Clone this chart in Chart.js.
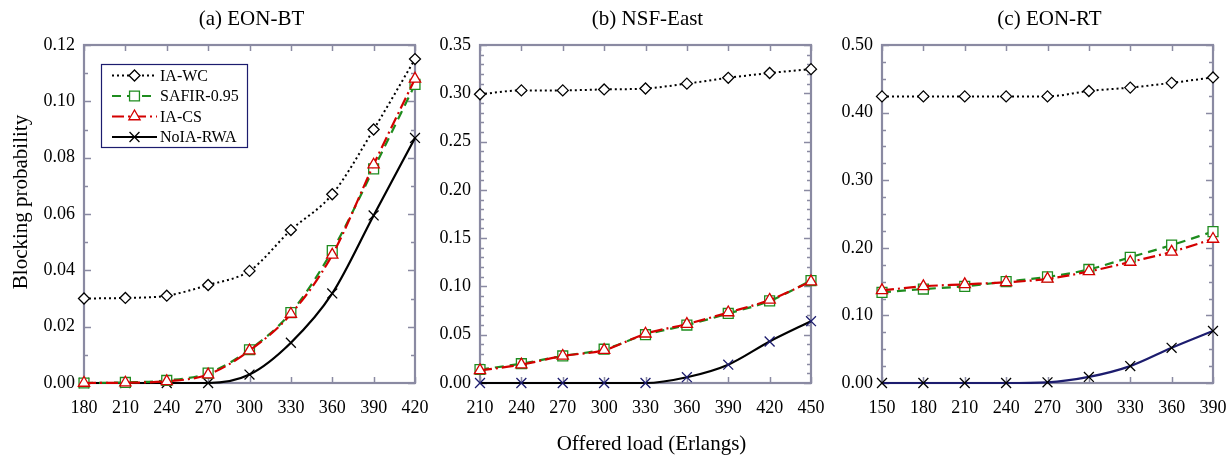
<!DOCTYPE html>
<html><head><meta charset="utf-8">
<script src="https://cdn.jsdelivr.net/npm/chart.js@4.4.0/dist/chart.umd.min.js"></script>
<style>
html,body{margin:0;padding:0;background:#fff;width:1227px;height:456px;overflow:hidden}
.p{position:absolute;top:0;height:456px}
</style></head><body>
<div class="p" style="left:0;width:430px"><canvas id="ca" width="430" height="456"></canvas></div>
<div class="p" style="left:430px;width:400px"><canvas id="cb" width="400" height="456"></canvas></div>
<div class="p" style="left:830px;width:397px"><canvas id="cc" width="397" height="456"></canvas></div>
<script>
// ---------- data ----------
const seriesNames = ['IA-WC', 'SAFIR-0.95', 'IA-CS', 'NoIA-RWA'];

// (a) EON-BT
const loadA   = [180, 210, 240, 270, 300, 330, 360, 390, 420];
const iaWcA   = [0.030, 0.0302, 0.031, 0.0348, 0.0398, 0.0543, 0.067, 0.090, 0.115];
const safirA  = [0.0, 0.0002, 0.0009, 0.0035, 0.0118, 0.0250, 0.047, 0.076, 0.106];
const iaCsA   = [0.0, 0.0001, 0.0006, 0.0030, 0.0115, 0.0245, 0.0455, 0.0775, 0.108];
const noiaA   = [0.0, 0.0, 0.0, 0.0, 0.0030, 0.0143, 0.0318, 0.0595, 0.087];

// (b) NSF-East
const loadB   = [210, 240, 270, 300, 330, 360, 390, 420, 450];
const iaWcB   = [0.299, 0.303, 0.303, 0.304, 0.305, 0.310, 0.316, 0.321, 0.325];
const safirB  = [0.014, 0.020, 0.028, 0.035, 0.050, 0.060, 0.072, 0.085, 0.106];
const iaCsB   = [0.013, 0.019, 0.028, 0.034, 0.051, 0.061, 0.073, 0.086, 0.105];
const noiaB   = [0.0, 0.0, 0.0, 0.0, 0.0, 0.006, 0.019, 0.043, 0.064];

// (c) EON-RT
const loadC   = [150, 180, 210, 240, 270, 300, 330, 360, 390];
const iaWcC   = [0.424, 0.424, 0.424, 0.424, 0.424, 0.432, 0.437, 0.444, 0.452];
const safirC  = [0.134, 0.139, 0.143, 0.150, 0.157, 0.168, 0.186, 0.204, 0.224];
const iaCsC   = [0.137, 0.143, 0.146, 0.149, 0.154, 0.165, 0.179, 0.194, 0.213];
const noiaC   = [0.0, 0.0, 0.0, 0.0, 0.001, 0.009, 0.025, 0.052, 0.077];

const titles = ['(a) EON-BT', '(b) NSF-East', '(c) EON-RT'];
const yTitle = 'Blocking probability';
const xTitle = 'Offered load (Erlangs)';

// ---------- styling ----------
const FONT = '"Liberation Serif", "Times New Roman", serif';
const FRAME = '#8a8aa2';
const NAVY = '#1c1c6e';
const GREEN = '#1e8c1e';
const RED = '#d40000';

function pts(xs, ys) { return xs.map((x, i) => ({x: x, y: ys[i]})); }

function makeDatasets(xs, wc, sf, cs, no, noLine, noPoint) {
  return [
    {label: seriesNames[0], data: pts(xs, wc), borderColor: '#000', borderWidth: 2, borderDash: [2, 3],
     pointStyle: 'rectRot', pointRadius: 5.5, pointBackgroundColor: '#fff', pointBorderColor: '#000', pointBorderWidth: 1.3, order: 1},
    {label: seriesNames[1], data: pts(xs, sf), borderColor: GREEN, borderWidth: 2.2, borderDash: [9, 6],
     pointStyle: 'rect', pointRadius: 7, pointBackgroundColor: '#fff', pointBorderColor: GREEN, pointBorderWidth: 1.3, order: 3},
    {label: seriesNames[2], data: pts(xs, cs), borderColor: RED, borderWidth: 2.2, borderDash: [12, 4, 2, 4],
     pointStyle: 'triangle', pointRadius: 6.5, pointBackgroundColor: '#fff', pointBorderColor: RED, pointBorderWidth: 1.3, order: 2},
    {label: seriesNames[3], data: pts(xs, no), borderColor: noLine, borderWidth: 2.2, borderDash: [],
     pointStyle: 'crossRot', pointRadius: 7, pointBackgroundColor: '#fff', pointBorderColor: noPoint, pointBorderWidth: 1.3, order: 4}
  ].map(d => Object.assign(d, {clip: false, fill: false, cubicInterpolationMode: 'monotone'}));
}

const framePlugin = {
  id: 'frameTicks',
  beforeDatasetsDraw(chart, args, o) {
    const ctx = chart.ctx, a = chart.chartArea;
    const xs = chart.scales.x, ys = chart.scales.y;
    ctx.save();
    ctx.strokeStyle = FRAME;
    ctx.lineWidth = 1.5;
    ctx.beginPath();
    for (let v = xs.min; v <= xs.max + 1e-9; v += o.xStep) {
      const px = Math.round(xs.getPixelForValue(v)) + 0.5;
      ctx.moveTo(px, a.bottom); ctx.lineTo(px, a.bottom - 6);
      ctx.moveTo(px, a.top); ctx.lineTo(px, a.top + 6);
    }
    const n = Math.round(ys.max / o.yMinor);
    const per = Math.round(o.yStep / o.yMinor);
    for (let i = 0; i <= n; i++) {
      const py = Math.round(ys.getPixelForValue(i * o.yMinor)) + 0.5;
      const len = (i % per === 0) ? 7 : 4;
      ctx.moveTo(a.left, py); ctx.lineTo(a.left + len, py);
      ctx.moveTo(a.right, py); ctx.lineTo(a.right - len, py);
    }
    ctx.stroke();
    ctx.lineWidth = 2.2;
    ctx.strokeRect(a.left, a.top, a.right - a.left, a.bottom - a.top);
    ctx.restore();
  },
  afterDraw(chart, args, o) {
    const ctx = chart.ctx, a = chart.chartArea;
    ctx.save();
    ctx.fillStyle = '#000';
    ctx.font = '21px ' + FONT;
    ctx.textAlign = 'center';
    ctx.textBaseline = 'middle';
    ctx.fillText(o.title, (a.left + a.right) / 2 + 2, 19);
    if (o.yTitle) {
      ctx.save();
      ctx.translate(21, 202);
      ctx.rotate(-Math.PI / 2);
      ctx.fillText(o.yTitle, 0, 0);
      ctx.restore();
    }
    if (o.xTitle) {
      ctx.fillText(o.xTitle, (a.left + a.right) / 2 + 6, 444);
    }
    if (o.legend) drawLegend(chart);
    ctx.restore();
  }
};

function marker(ctx, style, x, y, r, stroke) {
  ctx.save();
  ctx.strokeStyle = stroke; ctx.fillStyle = '#fff'; ctx.lineWidth = 1.3; ctx.setLineDash([]);
  ctx.beginPath();
  if (style === 'rectRot') {
    ctx.moveTo(x, y - r); ctx.lineTo(x + r, y); ctx.lineTo(x, y + r); ctx.lineTo(x - r, y); ctx.closePath();
    ctx.fill(); ctx.stroke();
  } else if (style === 'rect') {
    const s = r * Math.SQRT1_2;
    ctx.rect(x - s, y - s, 2 * s, 2 * s); ctx.fill(); ctx.stroke();
  } else if (style === 'triangle') {
    const w = r * Math.sqrt(3) / 2;
    ctx.moveTo(x, y - r); ctx.lineTo(x + w, y + r / 2); ctx.lineTo(x - w, y + r / 2); ctx.closePath();
    ctx.fill(); ctx.stroke();
  } else if (style === 'crossRot') {
    const s = r * Math.SQRT1_2;
    ctx.moveTo(x - s, y - s); ctx.lineTo(x + s, y + s);
    ctx.moveTo(x + s, y - s); ctx.lineTo(x - s, y + s);
    ctx.stroke();
  }
  ctx.restore();
}

function drawLegend(chart) {
  const ctx = chart.ctx, a = chart.chartArea;
  const bx = a.left + 17, by = a.top + 19, bw = 146, bh = 83;
  ctx.save();
  ctx.strokeStyle = NAVY; ctx.lineWidth = 1.2;
  ctx.strokeRect(bx + 0.5, by + 0.5, bw, bh);
  chart.data.datasets.forEach((d, i) => {
    const y = by + 11.5 + i * 20.5;
    const x0 = bx + 11, x1 = bx + 56, xm = (x0 + x1) / 2;
    ctx.save();
    ctx.strokeStyle = d.borderColor; ctx.lineWidth = d.borderWidth;
    ctx.setLineDash(d.borderDash || []);
    ctx.beginPath(); ctx.moveTo(x0, y); ctx.lineTo(x1, y); ctx.stroke();
    ctx.restore();
    marker(ctx, d.pointStyle, xm, y, d.pointRadius, d.pointBorderColor);
    ctx.fillStyle = '#000';
    ctx.font = '16px ' + FONT;
    ctx.textAlign = 'left'; ctx.textBaseline = 'middle';
    ctx.fillText(d.label, bx + 59, y + 1);
  });
  ctx.restore();
}

function makeChart(id, xs, sets, yMax, yStep, yMinor, leftW, rightPad, extra) {
  return new Chart(document.getElementById(id), {
    type: 'line',
    data: {datasets: sets},
    plugins: [framePlugin],
    options: {
      responsive: false, animation: false, events: [],
      layout: {padding: {top: 45, right: rightPad, left: 0, bottom: 0}},
      plugins: {legend: {display: false}, tooltip: {enabled: false}, title: {display: false},
        frameTicks: Object.assign({xStep: 30, yStep: yStep, yMinor: yMinor}, extra)},
      scales: {
        x: {type: 'linear', min: xs[0], max: xs[xs.length - 1],
          grid: {display: false, drawTicks: false}, border: {display: false},
          ticks: {stepSize: 30, color: '#000', font: {family: FONT, size: 18}, padding: 14,
            maxRotation: 0, autoSkip: false, callback: v => String(v)},
          afterFit: s => { s.height = 456 - 383; s.paddingLeft = 0; s.paddingRight = 0; }},
        y: {type: 'linear', min: 0, max: yMax,
          grid: {display: false, drawTicks: false}, border: {display: false},
          ticks: {stepSize: yStep, color: '#000', font: {family: FONT, size: 18}, padding: 9,
            callback: v => v.toFixed(2)},
          afterFit: s => { s.width = leftW; s.paddingTop = 0; s.paddingBottom = 0; }}
      }
    }
  });
}

makeChart('ca', loadA, makeDatasets(loadA, iaWcA, safirA, iaCsA, noiaA, '#000', '#000'),
  0.12, 0.02, 0.01, 84, 15, {title: titles[0], yTitle: yTitle, legend: true});
makeChart('cb', loadB, makeDatasets(loadB, iaWcB, safirB, iaCsB, noiaB, '#000', NAVY),
  0.35, 0.05, 0.01, 50, 19, {title: titles[1], xTitle: xTitle});
makeChart('cc', loadC, makeDatasets(loadC, iaWcC, safirC, iaCsC, noiaC, NAVY, '#000'),
  0.50, 0.10, 0.025, 52, 14, {title: titles[2]});
</script>
</body></html>
